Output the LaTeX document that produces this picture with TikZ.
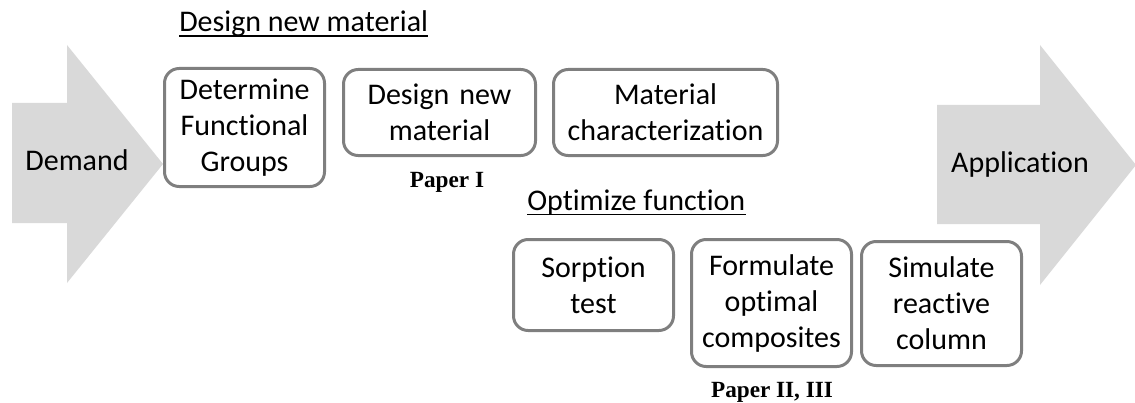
\documentclass[tikz,border=0pt]{standalone}
\usepackage{fontspec}
\setmainfont{Carlito}[Ligatures=NoCommon]
\newfontfamily\paperfont{Liberation Serif}
\definecolor{arrowgray}{HTML}{D9D9D9}
\definecolor{boxgray}{HTML}{7F7F7F}
\newcommand{\boxfont}{\fontsize{22.5pt}{27pt}\selectfont}

\begin{document}
\begin{tikzpicture}[x=0.75pt, y=-0.75pt,
  stage/.style={draw=boxgray, line width=2.25pt, rounded corners=11pt,
    align=center, inner sep=0pt, text width=120pt, font=\boxfont},
  bigarrow/.style={fill=arrowgray, draw=none},
  heading/.style={anchor=base west, inner sep=0pt, font=\boxfont},
  paper/.style={anchor=base, inner sep=0pt, font=\paperfont\bfseries\fontsize{17.4pt}{20pt}\selectfont}]
\useasboundingbox (0,0) rectangle (1135,403);

% big arrows
\fill[bigarrow] (12,103) -- (67,103) -- (67,45) -- (163,164) -- (67,283) -- (67,223) -- (12,223) -- cycle;
\fill[bigarrow] (937,105) -- (1040,105) -- (1040,45) -- (1136,165) -- (1040,285) -- (1040,224) -- (937,224) -- cycle;
\node[anchor=base, inner sep=0pt, font=\boxfont] (demand) at (77,170) {Demand};
\node[anchor=base, inner sep=0pt, font=\boxfont] (application) at (1020,172) {Application};

% design new material
\node[heading] (design) at (179,32) {Design new material};
\draw[line width=1pt] ([yshift=-3pt]design.base west) -- ([yshift=-3pt]design.base east);
\node[stage, minimum height=88.5pt] (groups) at (244.5,127.5) {Determine\\Functional\\Groups};
\node[stage, text width=144pt, minimum height=64.5pt] (newmat) at (439.5,112.5) {Design new\\material};
\node[stage, text width=168pt, minimum height=64.5pt] (charact) at (665.5,112.5) {Material\\characterization};
\node[paper] (paperone) at (447,187) {Paper I};

% optimize function
\node[heading] (optimize) at (527,210) {Optimize function};
\draw[line width=1pt] ([yshift=-3.5pt]optimize.base west) -- ([yshift=-3.5pt]optimize.base east);
\node[stage, minimum height=68.25pt] (sorption) at (593.5,285) {Sorption\\test};
\node[stage, minimum height=95.25pt] (formulate) at (771.5,303) {Formulate\\optimal\\composites};
\node[stage, minimum height=93pt] (simulate) at (941.5,303.5) {Simulate\\reactive\\column};
\node[paper] (papertwo) at (772,397) {Paper II, III};
\end{tikzpicture}
\end{document}
